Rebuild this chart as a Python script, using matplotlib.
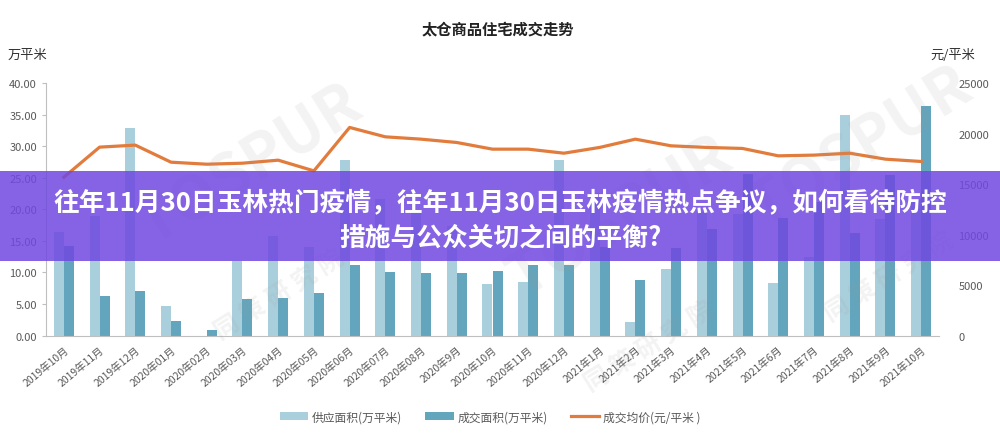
import numpy as np
import matplotlib
matplotlib.use("Agg")
import matplotlib.pyplot as plt
from matplotlib.patches import Rectangle

plt.rcParams['font.family'] = ['Noto Sans CJK SC', 'DejaVu Sans']

months = ["2019年10月", "2019年11月", "2019年12月", "2020年01月", "2020年02月",
          "2020年03月", "2020年04月", "2020年05月", "2020年06月", "2020年07月",
          "2020年08月", "2020年9月", "2020年10月", "2020年11月", "2020年12月",
          "2021年1月", "2021年2月", "2021年3月", "2021年4月", "2021年5月",
          "2021年6月", "2021年7月", "2021年8月", "2021年9月", "2021年10月"]
supply = [16.4, 19.0, 32.9, 4.6, 0, 11.8, 15.8, 14.1, 27.8, 21.7,
          19.8, 17.4, 8.2, 8.4, 27.8, 22.5, 2.1, 10.6, 19.5, 19.3,
          8.3, 12.4, 34.9, 18.5, 21.6]
deal = [14.2, 6.2, 7.1, 2.3, 0.9, 5.8, 6.0, 6.8, 11.2, 10.0,
        9.9, 9.9, 10.2, 11.2, 11.2, 14.0, 8.8, 13.8, 16.9, 25.6,
        18.6, 21.1, 16.3, 25.4, 36.3]
price = [15670, 18650, 18850, 17160, 16960, 17060, 17360, 16300, 20600, 19670,
         19440, 19110, 18450, 18450, 18050, 18620, 19440, 18780, 18620, 18520,
         17790, 17860, 18050, 17460, 17230]

left_ticks = [0, 5, 10, 15, 20, 25, 30, 35, 40]
right_ticks = [0, 5000, 10000, 15000, 20000, 25000]

gray = "#595959"
c_supply = "#aacfdc"
c_deal = "#63a5bd"
c_price = "#e27c3c"

fig = plt.figure(figsize=(10, 4.35), dpi=100)

# faint watermark, kept inside the picture
for (wx, wy) in [(0.25, 0.62), (0.62, 0.50), (0.86, 0.66)]:
    fig.text(wx, wy, "TOSPUR", fontsize=44, fontweight="bold", color="#9a9a9a",
             alpha=0.12, rotation=32, ha="center", va="center", zorder=0)
    fig.text(wx + 0.03, wy - 0.30, "同 策 研 究 院", fontsize=18, fontweight="bold",
             color="#9a9a9a", alpha=0.12, rotation=32, ha="center", va="center", zorder=0)

ax = fig.add_axes([0.046, 0.2264, 0.893, 0.5805])
ax.patch.set_alpha(0)
x = np.arange(len(months))
w = 0.28
ax.bar(x - w / 2, supply, width=w, color=c_supply, label="供应面积(万平米)")
ax.bar(x + w / 2, deal, width=w, color=c_deal, label="成交面积(万平米)")
ax.set_xlim(-0.5, len(months) - 0.5)
ax.set_ylim(0, 40)
ax.set_yticks(left_ticks)
ax.set_yticklabels([f"{v:.2f}" for v in left_ticks])
ax.set_xticks(x)
ax.set_xticklabels(months, rotation=40, ha="right", va="top", rotation_mode="anchor")
ax.tick_params(axis="y", colors=gray, labelsize=8, length=3, color="#bfbfbf")
ax.tick_params(axis="x", colors=gray, labelsize=7.5, length=0, pad=6)
for s in ["top", "right"]:
    ax.spines[s].set_visible(False)
ax.spines["left"].set_color("#bfbfbf")
ax.spines["bottom"].set_color("#bfbfbf")

ax2 = ax.twinx()
ax2.plot(x, price, color=c_price, lw=2.3, label="成交均价(元/平米 )")
ax2.set_ylim(0, 25000)
ax2.set_yticks(right_ticks)
ax2.tick_params(axis="y", colors=gray, labelsize=8, length=0, pad=14)
for s in ["top", "right", "left", "bottom"]:
    ax2.spines[s].set_visible(False)

fig.text(0.498, 0.933, "太仓商品住宅成交走势", fontsize=11, fontweight="bold",
         color="#222222", ha="center", va="center")
fig.text(0.008, 0.873, "万平米", fontsize=9.5, color="#333333", ha="left", va="center")
fig.text(0.975, 0.873, "元/平米", fontsize=9.5, color="#333333", ha="right", va="center")

h1, l1 = ax.get_legend_handles_labels()
h2, l2 = ax2.get_legend_handles_labels()
fig.legend(h1 + h2, l1 + l2, loc="center", bbox_to_anchor=(0.49, 0.04), ncol=3,
           frameon=False, fontsize=8.5, labelcolor=gray, handlelength=2.4,
           handleheight=0.6, columnspacing=2.0, handletextpad=0.3)

# purple banner
fig.patches.append(Rectangle((0, (435 - 262) / 435), 1, 90 / 435, transform=fig.transFigure,
                             facecolor="#7048e0", alpha=0.85, edgecolor="none", zorder=5))
fig.text(0.5, (435 - 204) / 435, "往年11月30日玉林热门疫情，往年11月30日玉林疫情热点争议，如何看待防控",
         fontsize=18.5, fontweight="bold", color="white", ha="center", va="center", zorder=6)
fig.text(0.5, (435 - 238) / 435, "措施与公众关切之间的平衡?",
         fontsize=18.5, fontweight="bold", color="white", ha="center", va="center", zorder=6)

fig.savefig("out.png", dpi=100)
